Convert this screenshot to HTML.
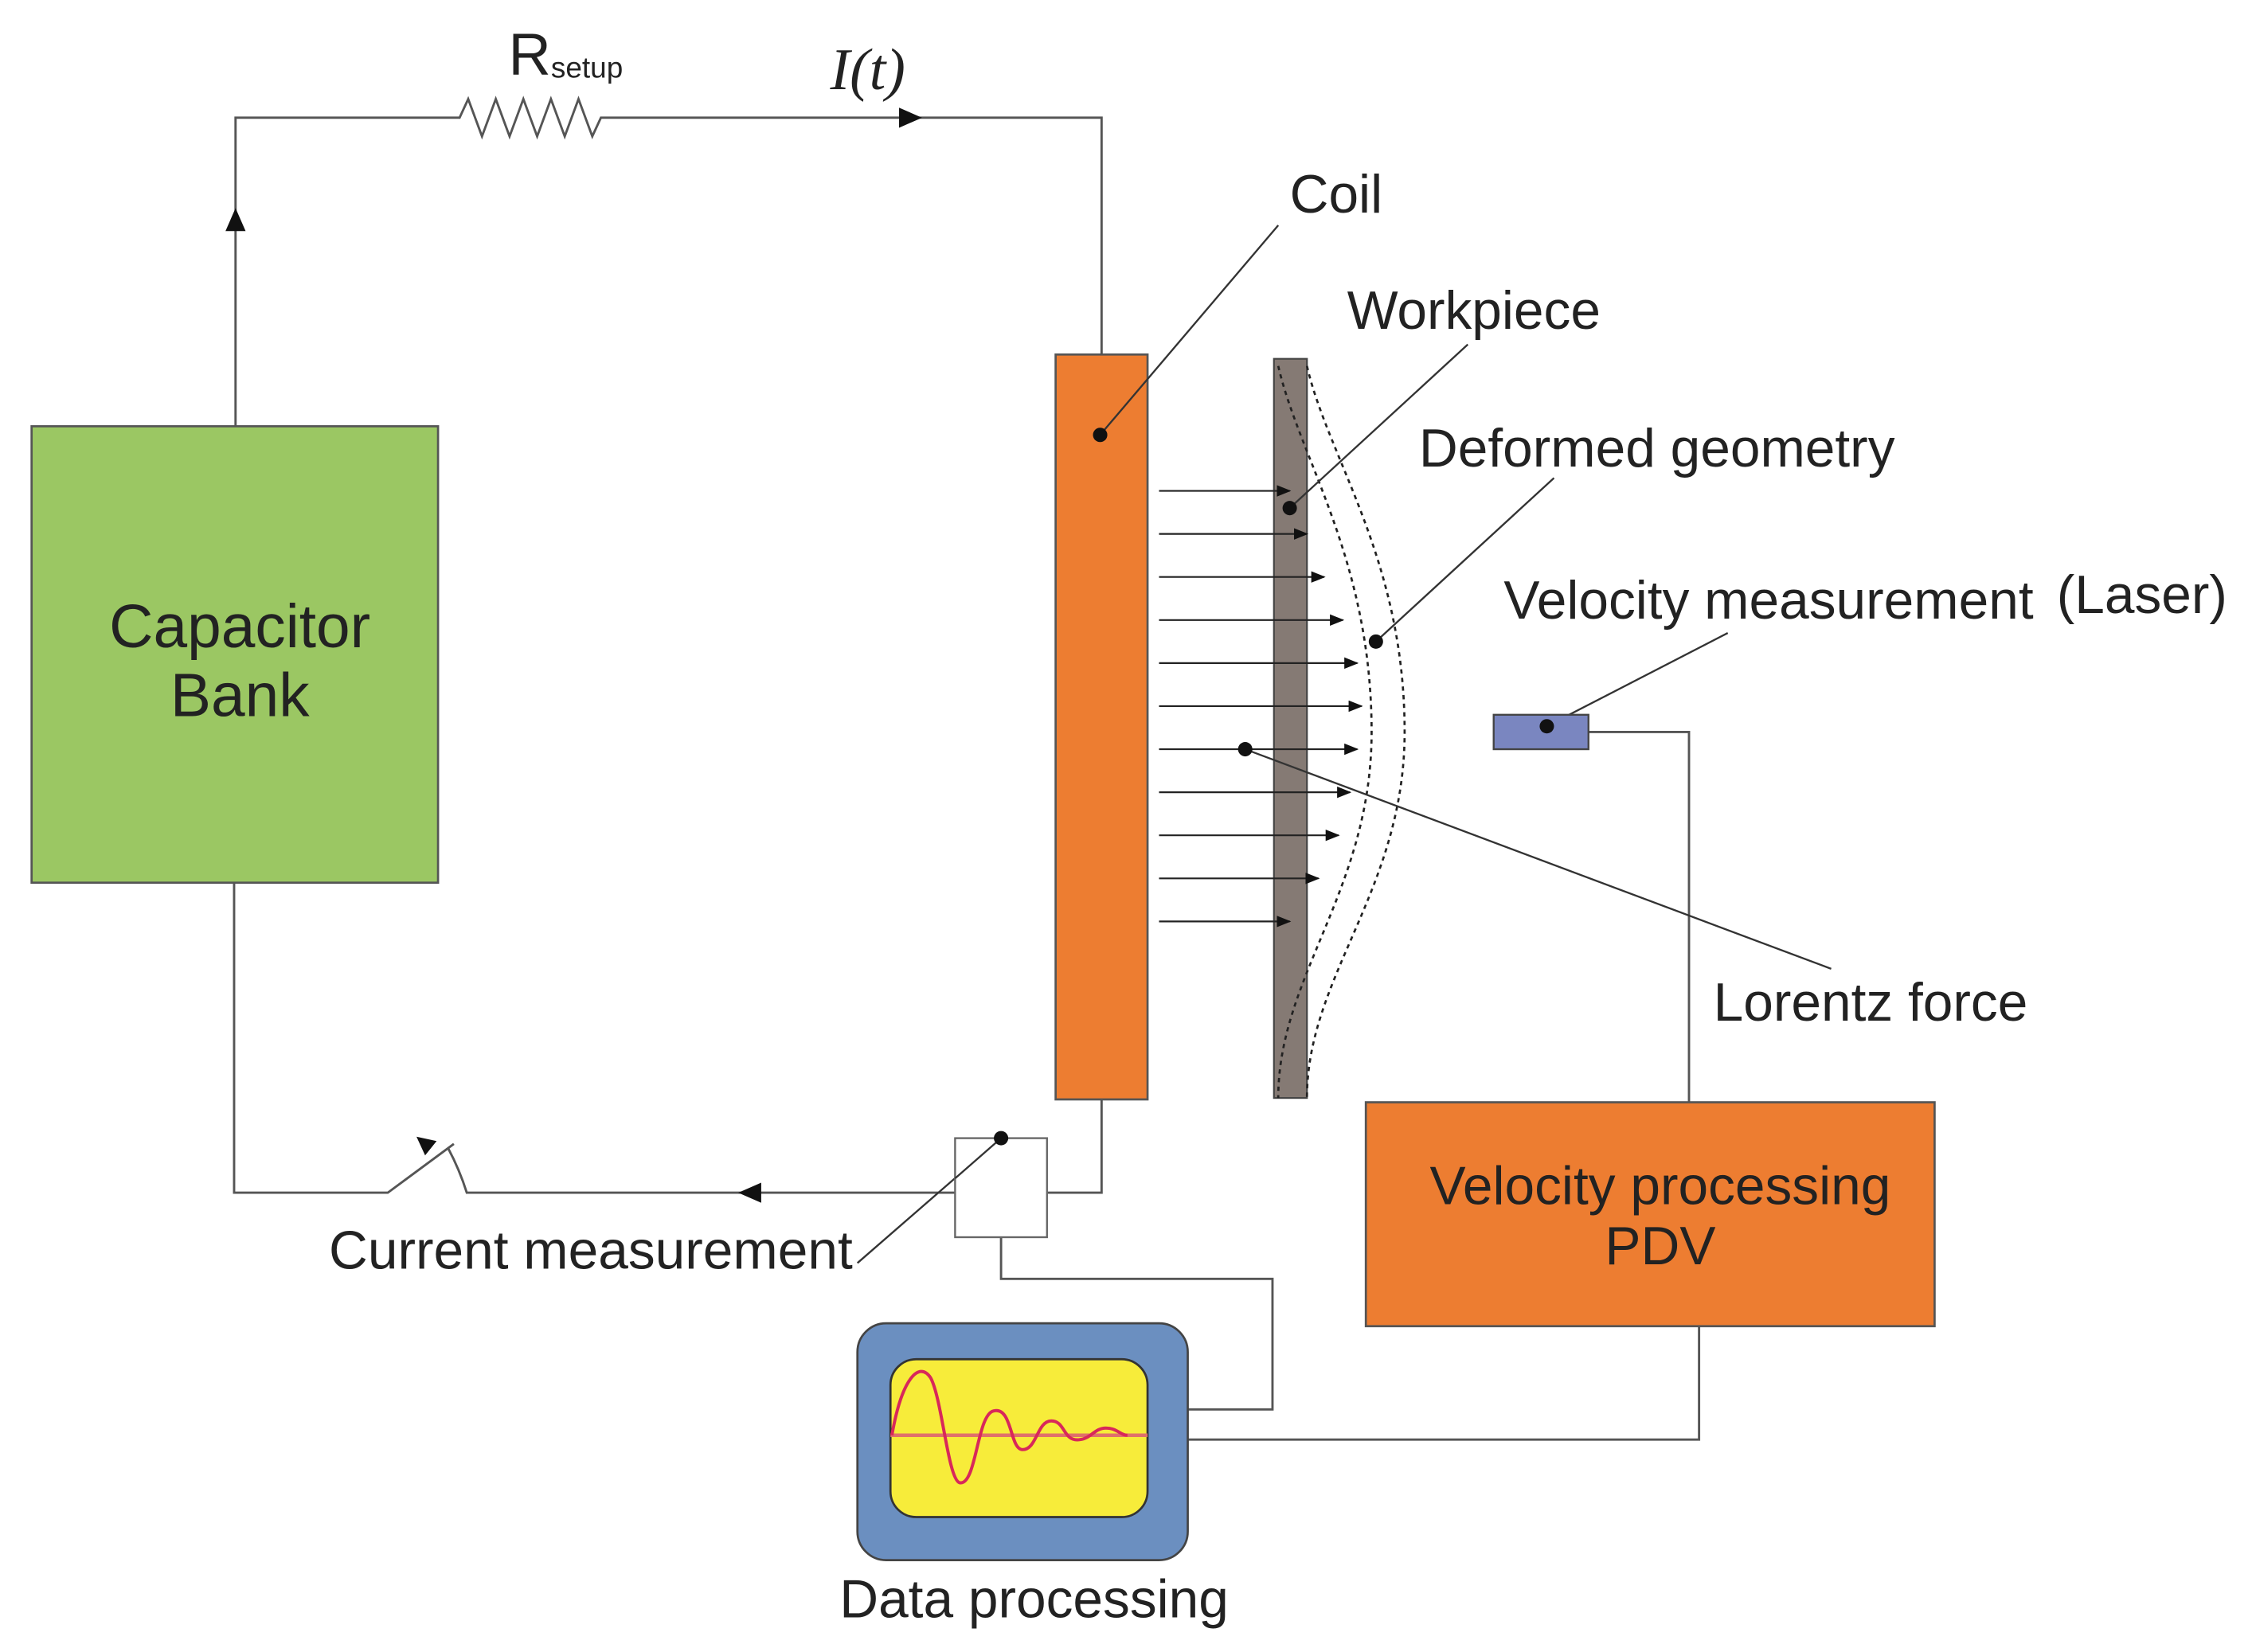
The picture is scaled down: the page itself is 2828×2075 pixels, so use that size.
<!DOCTYPE html>
<html><head><meta charset="utf-8"><style>html,body{margin:0;padding:0;background:#fff}svg{display:block}</style></head>
<body>
<svg width="2828" height="2075" viewBox="0 0 1568 1151" preserveAspectRatio="none" xmlns="http://www.w3.org/2000/svg" font-family="Liberation Sans, sans-serif">
<defs>
<marker id="ah" markerWidth="10" markerHeight="8" refX="9" refY="4" orient="auto" markerUnits="userSpaceOnUse"><path d="M0,0 L10,4 L0,8 Z" fill="#111"/></marker>
</defs>
<g fill="none" stroke="#555" stroke-width="1.6">
<path d="M164,297 V82 H320 l6,-13 l9.6,26 l9.6,-26 l9.6,26 l9.6,-26 l9.6,26 l9.6,-26 l9.6,26 l9.6,-26 l9.6,26 l6,-13 H767 V247"/>
<path d="M767,766 V831 H325 Q320,815 312,800"/>
<path d="M163,615 V831 H270 L316,797"/>
<path d="M697,862 V891 H886 V982 H827"/>
<path d="M827,1003 H1183 V924"/>
<path d="M1176,768 V510 H1106"/>
</g>
<path d="M164,145 l-7,16 h14 z" fill="#111"/>
<path d="M642,82 l-16,-7 v14 z" fill="#111"/>
<path d="M514,831 l16,-7 v14 z" fill="#111"/>
<path d="M290,792 l14,3 l-8,10 z" fill="#111"/>
<rect x="22" y="297" width="283" height="318" fill="#9bc763" stroke="#555" stroke-width="1.5"/>
<text x="167" y="451" font-size="42.5" text-anchor="middle" fill="#222">Capacitor</text>
<text x="167" y="499" font-size="42.5" text-anchor="middle" fill="#222">Bank</text>
<text x="354" y="52" font-size="41" fill="#222">R<tspan font-size="20.5" dy="2">setup</tspan></text>
<text x="578" y="62" font-size="41" font-family="Liberation Serif, serif" font-style="italic" fill="#222">I(t)</text>
<rect x="735" y="247" width="64" height="519" fill="#ed7d31" stroke="#555" stroke-width="1.5"/>
<rect x="887" y="250" width="23" height="515" fill="#857a74" stroke="#444" stroke-width="1.2"/>
<g fill="none" stroke="#222" stroke-width="1.5" stroke-dasharray="3,3">
<path d="M890,255 C905,320 955,390 955,510 C955,620 890,680 890,765"/>
<path d="M910,255 C925,320 978,390 978,510 C978,620 910,680 910,765"/>
</g>
<g stroke="#222" stroke-width="1.2" marker-end="url(#ah)">
<line x1="807" y1="342" x2="898" y2="342"/>
<line x1="807" y1="372" x2="910" y2="372"/>
<line x1="807" y1="402" x2="922" y2="402"/>
<line x1="807" y1="432" x2="935" y2="432"/>
<line x1="807" y1="462" x2="945" y2="462"/>
<line x1="807" y1="492" x2="948" y2="492"/>
<line x1="807" y1="522" x2="945" y2="522"/>
<line x1="807" y1="552" x2="940" y2="552"/>
<line x1="807" y1="582" x2="932" y2="582"/>
<line x1="807" y1="612" x2="918" y2="612"/>
<line x1="807" y1="642" x2="898" y2="642"/>
</g>
<g stroke="#333" stroke-width="1.3">
<line x1="766" y1="303" x2="890" y2="157"/>
<line x1="898" y1="354" x2="1022" y2="240"/>
<line x1="958" y1="447" x2="1082" y2="333"/>
<line x1="867" y1="522" x2="1275" y2="675"/>
<line x1="1077" y1="506" x2="1203" y2="441"/>
<line x1="697" y1="793" x2="597" y2="880"/>
</g>
<rect x="1040" y="498" width="66" height="24" fill="#7a86c0" stroke="#444" stroke-width="1.3"/>
<rect x="665" y="793" width="64" height="69" fill="#fff" stroke="#666" stroke-width="1.3"/>
<line x1="697" y1="793" x2="665" y2="821" stroke="#333" stroke-width="1.3"/>
<g fill="#111">
<circle cx="766" cy="303" r="5"/><circle cx="898" cy="354" r="5"/><circle cx="958" cy="447" r="5"/><circle cx="867" cy="522" r="5"/><circle cx="1077" cy="506" r="5"/><circle cx="697" cy="793" r="5"/>
</g>
<rect x="951" y="768" width="396" height="156" fill="#ed7d31" stroke="#555" stroke-width="1.5"/>
<text x="1156" y="839" font-size="37.5" text-anchor="middle" fill="#222">Velocity processing</text>
<text x="1156" y="881" font-size="37.5" text-anchor="middle" fill="#222">PDV</text>
<rect x="597" y="922" width="230" height="165" rx="20" fill="#6b8fc0" stroke="#444" stroke-width="1.5"/>
<rect x="620" y="947" width="179" height="110" rx="18" fill="#f7ec3a" stroke="#333" stroke-width="1.5"/>
<line x1="620" y1="1000" x2="799" y2="1000" stroke="#e0706a" stroke-width="2.5"/>
<path d="M621,1000 C628,960 640,948 648,960 C656,975 660,1030 668,1033 C680,1036 680,985 692,983 C705,980 703,1010 712,1010 C722,1010 722,990 732,990 C742,990 740,1005 752,1003 C760,1002 762,995 770,995 C778,995 780,1000 785,1000" fill="none" stroke="#d8285a" stroke-width="2.2"/>
<text x="720" y="1127" font-size="37.5" text-anchor="middle" fill="#222">Data processing</text>
<text x="898" y="148" font-size="37.5" fill="#222">Coil</text>
<text x="938" y="229" font-size="37.5" fill="#222">Workpiece</text>
<text x="988" y="325" font-size="37.5" fill="#222">Deformed geometry</text>
<text x="1047" y="431" font-size="37.5" fill="#222">Velocity measurement</text>
<text x="1432" y="427" font-size="37.5" fill="#222">(Laser)</text>
<text x="1193" y="711" font-size="37.5" fill="#222">Lorentz force</text>
<text x="229" y="884" font-size="37.5" fill="#222">Current measurement</text>
</svg>
</body></html>
